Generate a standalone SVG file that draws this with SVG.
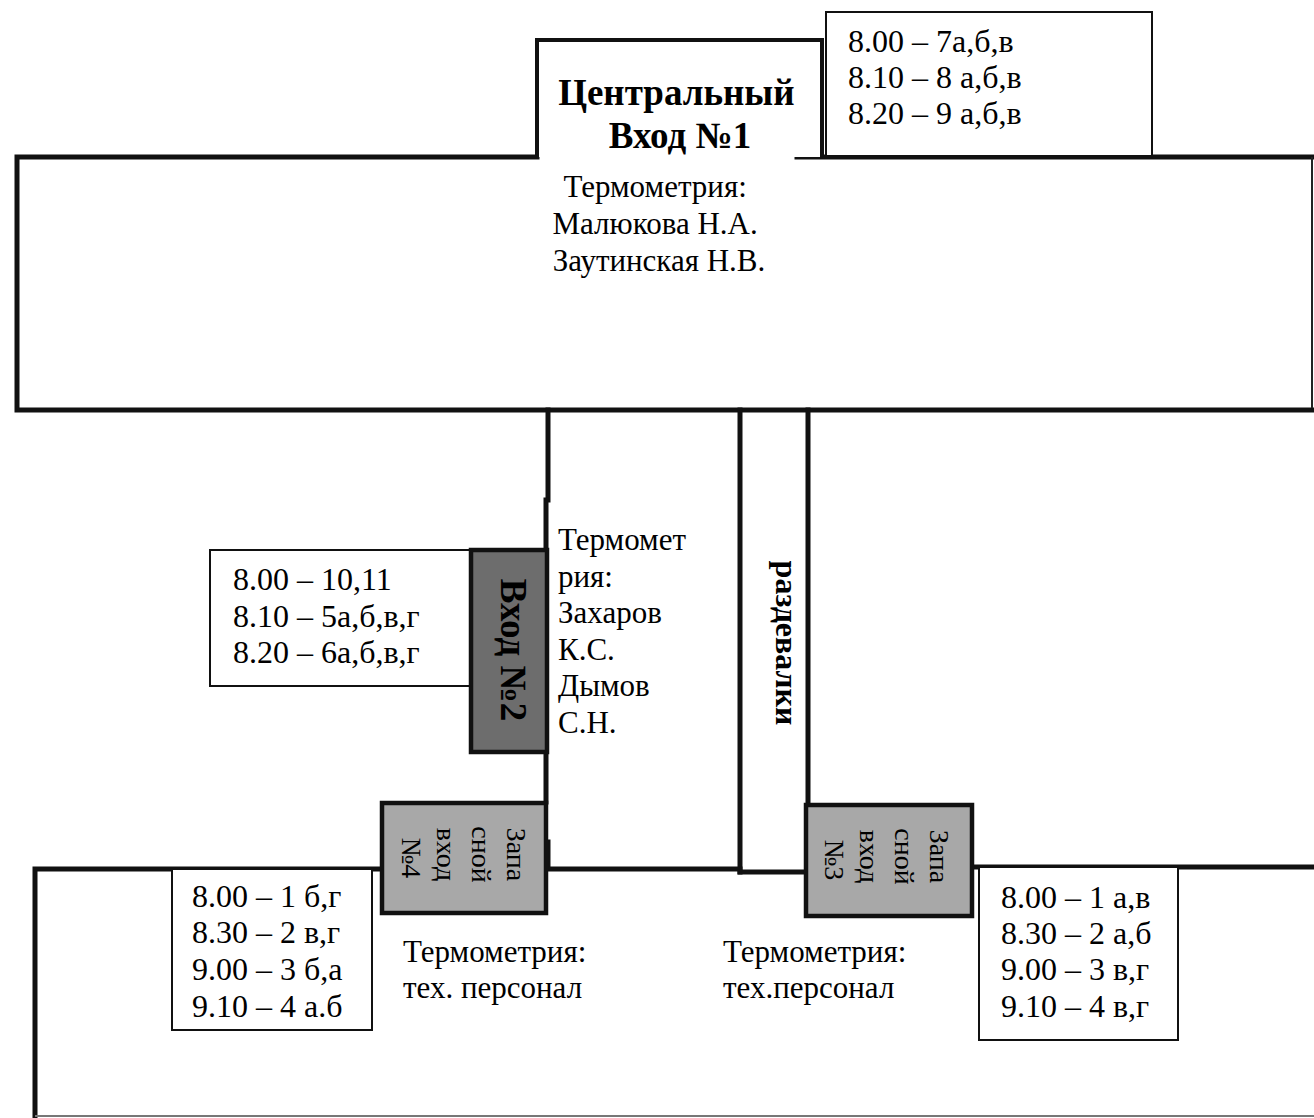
<svg xmlns="http://www.w3.org/2000/svg" width="1314" height="1118" viewBox="0 0 1314 1118">
<style>
.t{font-family:"Liberation Serif","Times New Roman",serif;fill:#000}
.s32{font-size:32px}
.s31{font-size:31px}
.b{font-weight:bold}
.wall{stroke:#111;stroke-width:5;fill:none;stroke-linecap:square}
.thin{stroke:#222;stroke-width:2;fill:none}
.box{fill:#fff;stroke:#111;stroke-width:2}
.ent{stroke:#111;stroke-width:4.5}
</style>
<rect width="1314" height="1118" fill="#fff"/>

<g id="connectors">
  <path class="wall" d="M537,157 H17 V410 H1312"/>
  <path class="wall" d="M797,157 H1312"/>
  <line class="thin" x1="537" y1="156" x2="797" y2="156" stroke-width="1.5"/>
  <line class="thin" x1="1312" y1="157" x2="1312" y2="408"/>
  <line class="wall" x1="548" y1="410" x2="548" y2="500"/>
  <line class="wall" x1="546" y1="500" x2="546" y2="802" stroke-width="3"/>
  <line class="wall" x1="548" y1="842" x2="548" y2="868" stroke-width="3"/>
  <line class="wall" x1="740" y1="410" x2="740" y2="872"/>
  <line class="wall" x1="808" y1="410" x2="808" y2="804"/>
  <path class="wall" d="M382,869 H35 V1116"/>
  <line class="wall" x1="546" y1="869" x2="740" y2="869"/>
  <line class="wall" x1="740" y1="872" x2="806" y2="872"/>
  <line class="wall" x1="973" y1="867" x2="1314" y2="867"/>
  <line x1="35" y1="1116" x2="1314" y2="1116" stroke="#777" stroke-width="2"/>
</g>

<g id="top-building">
  <text class="t s31" text-anchor="middle">
    <tspan x="659" y="197">Термометрия:</tspan>
    <tspan x="659" y="234">Малюкова Н.А.</tspan>
    <tspan x="659" y="271">Заутинская Н.В.</tspan>
  </text>
</g>

<g id="central-entrance">
  <path d="M537,157 V40 H822 V157" fill="#fff" stroke="#111" stroke-width="4"/>
  <text class="t b" font-size="37" text-anchor="middle">
    <tspan x="681" y="105">Центральный</tspan>
    <tspan x="680" y="148">Вход №1</tspan>
  </text>
</g>

<g id="schedule-1">
  <rect class="box" x="826" y="12" width="326" height="144"/>
  <text class="t s32">
    <tspan x="848" y="52">8.00 – 7а,б,в</tspan>
    <tspan x="848" y="88">8.10 – 8 а,б,в</tspan>
    <tspan x="848" y="124">8.20 – 9 а,б,в</tspan>
  </text>
</g>

<g id="schedule-2">
  <rect class="box" x="210" y="550" width="262" height="136"/>
  <text class="t s32">
    <tspan x="233" y="590">8.00 – 10,11</tspan>
    <tspan x="233" y="627">8.10 – 5а,б,в,г</tspan>
    <tspan x="233" y="663">8.20 – 6а,б,в,г</tspan>
  </text>
</g>

<g id="entrance-2">
  <rect class="ent" x="471" y="550" width="76" height="202" fill="#6d6d6d"/>
  <text class="t b" font-size="37" text-anchor="middle" transform="translate(501,650) rotate(90)">Вход №2</text>
</g>

<g id="thermo-2">
  <text class="t s31">
    <tspan x="558" y="550">Термомет</tspan>
    <tspan x="558" y="587">рия:</tspan>
    <tspan x="558" y="623">Захаров</tspan>
    <tspan x="558" y="660">К.С.</tspan>
    <tspan x="558" y="696">Дымов</tspan>
    <tspan x="558" y="733">С.Н.</tspan>
  </text>
</g>

<g id="changing-rooms">
  <text class="t b" font-size="32" text-anchor="middle" transform="translate(776,643) rotate(90)">раздевалки</text>
</g>

<g id="entrance-4">
  <rect class="ent" x="382" y="803" width="164" height="110" fill="#a8a8a8"/>
  <text class="t" font-size="28" text-anchor="middle" transform="translate(507,858) rotate(90)">
    <tspan x="0" y="0">Запа</tspan>
    <tspan x="0" y="35">сной</tspan>
    <tspan x="0" y="70">вход</tspan>
    <tspan x="0" y="105">№4</tspan>
  </text>
</g>

<g id="entrance-3">
  <rect class="ent" x="806" y="805" width="166" height="111" fill="#a8a8a8"/>
  <text class="t" font-size="28" text-anchor="middle" transform="translate(930,860) rotate(90)">
    <tspan x="0" y="0">Запа</tspan>
    <tspan x="0" y="35">сной</tspan>
    <tspan x="0" y="70">вход</tspan>
    <tspan x="0" y="105">№3</tspan>
  </text>
</g>

<g id="schedule-4">
  <rect class="box" x="172" y="869" width="200" height="161"/>
  <text class="t s32">
    <tspan x="192" y="907">8.00 – 1 б,г</tspan>
    <tspan x="192" y="943">8.30 – 2 в,г</tspan>
    <tspan x="192" y="980">9.00 – 3 б,а</tspan>
    <tspan x="192" y="1017">9.10 – 4 а.б</tspan>
  </text>
</g>

<g id="thermo-4">
  <text class="t s31">
    <tspan x="403" y="962">Термометрия:</tspan>
    <tspan x="403" y="998">тех. персонал</tspan>
  </text>
</g>

<g id="thermo-3">
  <text class="t s31">
    <tspan x="723" y="962">Термометрия:</tspan>
    <tspan x="723" y="998">тех.персонал</tspan>
  </text>
</g>

<g id="schedule-3">
  <rect class="box" x="979" y="867" width="199" height="173"/>
  <text class="t s32">
    <tspan x="1001" y="908">8.00 – 1 а,в</tspan>
    <tspan x="1001" y="944">8.30 – 2 а,б</tspan>
    <tspan x="1001" y="980">9.00 – 3 в,г</tspan>
    <tspan x="1001" y="1017">9.10 – 4 в,г</tspan>
  </text>
</g>
</svg>
